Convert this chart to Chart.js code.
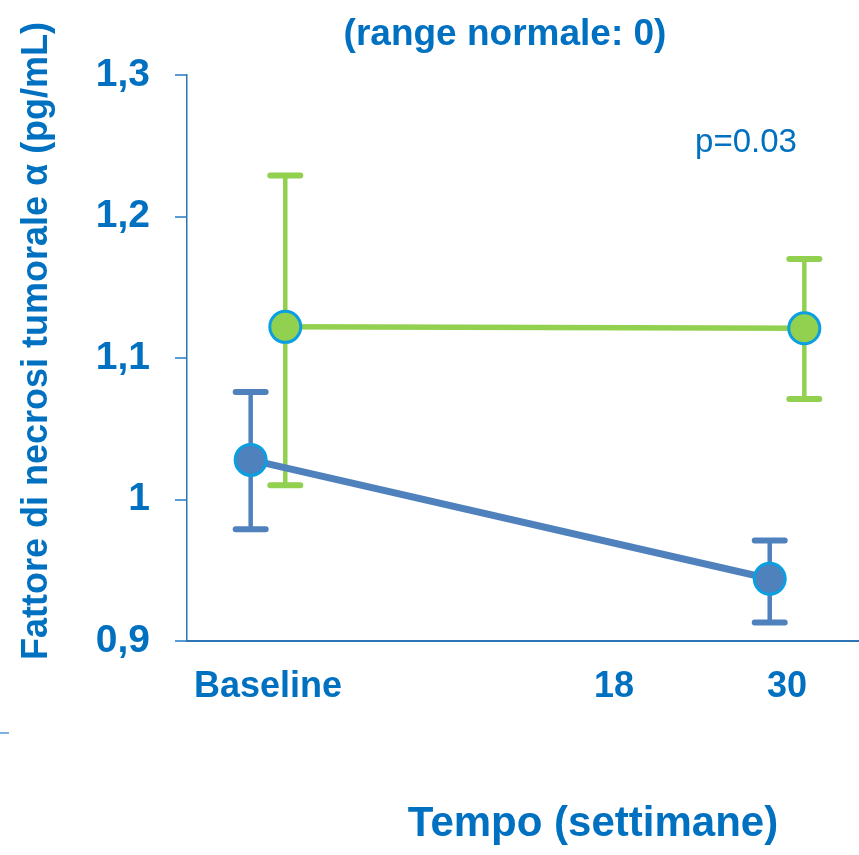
<!DOCTYPE html>
<html lang="it">
<head>
<meta charset="UTF-8">
<title>Fattore di necrosi tumorale α</title>
<script src="https://cdn.jsdelivr.net/npm/chart.js@4.4.1/dist/chart.umd.min.js"></script>
<style>
    html, body { margin: 0; padding: 0; background: #fff; overflow: hidden; }
</style>
</head>
<body>
<canvas id="tnfChart" width="859" height="855"></canvas>
<script>
// x categories (the empty slot keeps the spacing of the original axis)
const timeLabels = ['Baseline', '', '18', '30'];
const yTickValues = [0.9, 1.0, 1.1, 1.2, 1.3];
const yTickLabels = ['0,9', '1', '1,1', '1,2', '1,3'];

// blue group, measured at baseline and week 30
const blueSlots = [0, 3];
const blueMean = [1.028, 0.944];
const blueLow = [0.979, 0.913];
const blueHigh = [1.076, 0.971];

// green group
const greenSlots = [0, 3];
const greenMean = [1.122, 1.121];
const greenLow = [1.010, 1.071];
const greenHigh = [1.229, 1.170];

const chartTitle = '(range normale: 0)';
const pValueText = 'p=0.03';
const xTitle = 'Tempo (settimane)';
const yTitle = 'Fattore di necrosi tumorale α (pg/mL)';

const FONT = 'Arial, "Liberation Sans", sans-serif';
const TEXT_BLUE = '#0070C0';
const BLUE = '#4F81BD';
const GREEN = '#92D050';
const RING = '#0A9FE0';

function points(slots, means, dodge) {
    return slots.map((s, i) => ({ x: s + dodge, y: means[i] }));
}

// vertical error bars with caps, drawn under the lines and markers
const errorBars = {
    id: 'errorBars',
    beforeDatasetsDraw(chart) {
        const ctx = chart.ctx;
        const yScale = chart.scales.y;
        chart.data.datasets.forEach((ds, di) => {
            const meta = chart.getDatasetMeta(di);
            ctx.save();
            ctx.strokeStyle = ds.borderColor;
            ctx.lineCap = 'round';
            meta.data.forEach((pt, i) => {
                const top = yScale.getPixelForValue(ds.errHigh[i]);
                const bottom = yScale.getPixelForValue(ds.errLow[i]);
                ctx.lineWidth = 4.5;
                ctx.beginPath();
                ctx.moveTo(pt.x, top);
                ctx.lineTo(pt.x, bottom);
                ctx.stroke();
                ctx.lineWidth = 6;
                ctx.beginPath();
                ctx.moveTo(pt.x - 15, top);
                ctx.lineTo(pt.x + 15, top);
                ctx.moveTo(pt.x - 15, bottom);
                ctx.lineTo(pt.x + 15, bottom);
                ctx.stroke();
            });
            ctx.restore();
        });
    }
};

// free texts of the slide: title, p value, axis titles
const slideTexts = {
    id: 'slideTexts',
    afterDraw(chart) {
        const ctx = chart.ctx;
        ctx.save();
        ctx.fillStyle = TEXT_BLUE;
        ctx.textAlign = 'center';
        ctx.textBaseline = 'alphabetic';

        ctx.font = 'bold 37px ' + FONT;
        ctx.fillText(chartTitle, 505, 45);

        ctx.font = '33px ' + FONT;
        ctx.fillText(pValueText, 746, 152);

        ctx.font = 'bold 42px ' + FONT;
        ctx.fillText(xTitle, 593, 836);

        ctx.translate(47, 341);
        ctx.rotate(-Math.PI / 2);
        ctx.font = 'bold 36px ' + FONT;
        ctx.fillText(yTitle, 0, 0);
        ctx.restore();

        // small leftover dash on the left edge
        ctx.save();
        ctx.strokeStyle = '#7FB2DE';
        ctx.lineWidth = 2;
        ctx.beginPath();
        ctx.moveTo(0, 733);
        ctx.lineTo(9, 733);
        ctx.stroke();
        ctx.restore();
    }
};

const ctx = document.getElementById('tnfChart').getContext('2d');

new Chart(ctx, {
    type: 'line',
    data: {
        datasets: [
            {
                label: 'Gruppo 1',
                data: points(blueSlots, blueMean, -0.1),
                errLow: blueLow,
                errHigh: blueHigh,
                borderColor: BLUE,
                backgroundColor: BLUE,
                borderWidth: 7,
                pointRadius: 15.5,
                pointBorderWidth: 3,
                pointBorderColor: RING,
                pointBackgroundColor: BLUE
            },
            {
                label: 'Gruppo 2',
                data: points(greenSlots, greenMean, 0.1),
                errLow: greenLow,
                errHigh: greenHigh,
                borderColor: GREEN,
                backgroundColor: GREEN,
                borderWidth: 5.5,
                pointRadius: 15.5,
                pointBorderWidth: 3,
                pointBorderColor: RING,
                pointBackgroundColor: GREEN
            }
        ]
    },
    options: {
        responsive: false,
        animation: false,
        layout: {
            autoPadding: false,   // markers may touch the plot edge, keep the area fixed
            padding: { top: 75, left: 0, right: 0, bottom: 0 }
        },
        plugins: {
            legend: { display: false },
            title: { display: false },
            tooltip: { enabled: false }
        },
        scales: {
            x: {
                type: 'linear',
                min: -0.468,
                max: 3.416,
                afterBuildTicks: s => { s.ticks = timeLabels.map((_, i) => ({ value: i })); },
                afterFit: s => {
                    s.height = 214;
                    s.paddingLeft = 0;
                    s.paddingRight = 0;
                },
                grid: { display: false, drawTicks: false },
                border: { color: '#2E75B6', width: 2 },
                ticks: {
                    autoSkip: false,
                    maxRotation: 0,
                    padding: 24,
                    color: TEXT_BLUE,
                    font: { family: FONT, size: 36, weight: 'bold' },
                    callback: (v, i) => timeLabels[i]
                }
            },
            y: {
                min: 0.9,
                max: 1.3,
                afterBuildTicks: s => { s.ticks = yTickValues.map(v => ({ value: v })); },
                afterFit: s => { s.width = 187; },
                grid: {
                    drawOnChartArea: false,
                    drawTicks: true,
                    tickLength: 12,
                    color: '#5B9BD5',
                    lineWidth: 2
                },
                border: { color: '#2E75B6', width: 1.5 },
                ticks: {
                    padding: 25,
                    color: TEXT_BLUE,
                    font: { family: FONT, size: 39, weight: 'bold' },
                    callback: (v, i) => yTickLabels[i]
                }
            }
        }
    },
    plugins: [errorBars, slideTexts]
});
</script>
</body>
</html>
